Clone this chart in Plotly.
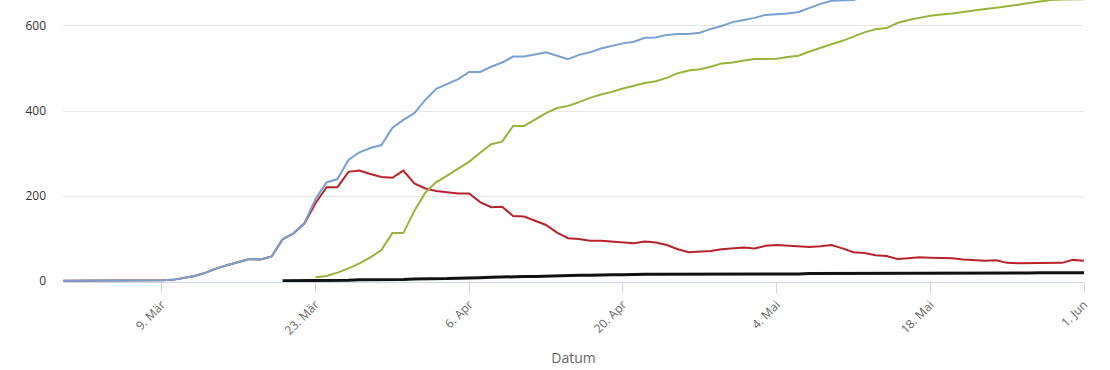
import pandas as pd
import plotly.graph_objects as go

dates = pd.date_range("2020-02-29", "2020-06-01", freq="D")

# Bestätigte Fälle (blau)
faelle = ([1] +
          [1, 1, 1, 2, 2, 2, 2, 2, 2, 3, 8, 12, 20, 30, 38, 45, 52, 51, 58, 99,
           113, 137, 193, 232, 240, 285, 303, 313, 320, 360, 379] +
          [395, 426, 452, 463, 475, 492, 492, 504, 514, 528, 528, 533, 538, 530, 522,
           532, 538, 547, 553, 559, 563, 572, 573, 579, 581, 581, 584, 593, 600, 609] +
          [614, 619, 626, 628, 629, 633, 642, 652, 659, 660, 661, 668, 672, 676, 680,
           684, 687, 690, 693, 696, 699, 702, 705, 707, 709, 711, 713, 716, 719, 722, 726] +
          [729])

# Aktive Fälle (rot)
aktiv = ([1] +
         [1, 1, 1, 2, 2, 2, 2, 2, 2, 3, 8, 12, 20, 30, 38, 45, 52, 51, 58, 98,
          112, 136, 183, 221, 221, 257, 260, 252, 245, 243, 260] +
         [230, 218, 212, 209, 206, 206, 186, 174, 175, 153, 152, 142, 132, 114, 101,
          99, 95, 95, 93, 91, 89, 93, 91, 85, 75, 68, 69, 71, 75, 77] +
         [79, 77, 83, 85, 83, 81, 80, 82, 85, 77, 68, 66, 61, 59, 52,
          54, 56, 55, 54, 54, 51, 49, 48, 49, 43, 42, 42, 42, 42, 43, 50] +
         [48])

# Genesene (grün)
genesen = ([None] * 23 +
           [9, 12, 20, 30, 42, 56, 73, 113, 113] +
           [165, 208, 233, 248, 264, 281, 302, 322, 328, 365, 365, 380, 395, 407, 412,
            421, 431, 439, 445, 453, 459, 466, 470, 478, 489, 495, 498, 504, 512, 514] +
           [519, 522, 522, 523, 527, 530, 540, 549, 557, 565, 575, 585, 592, 595, 607,
            614, 619, 624, 627, 629, 633, 637, 640, 643, 646, 650, 654, 658, 661, 662, 662] +
           [663])

# Verstorbene (schwarz)
tote = ([None] * 20 +
        [1, 1, 1, 2, 2, 2, 2, 3, 3, 3, 4, 4] +
        [5, 5, 6, 6, 7, 7, 8, 9, 10, 10, 11, 11, 12, 12, 13,
         14, 14, 15, 15, 15, 16, 16, 16, 16, 16, 16, 17, 17, 17, 17] +
        [17, 17, 17, 17, 17, 17, 18, 18, 18, 18, 18, 18, 18, 18, 18,
         18, 18, 18, 19, 19, 19, 19, 19, 19, 19, 19, 19, 20, 20, 20, 20] +
        [20])

assert len(faelle) == len(aktiv) == len(genesen) == len(tote) == len(dates)

tick_dates = ["2020-03-09", "2020-03-23", "2020-04-06", "2020-04-20",
              "2020-05-04", "2020-05-18", "2020-06-01"]
tick_labels = ["9. Mär", "23. Mär", "6. Apr", "20. Apr", "4. Mai", "18. Mai", "1. Jun"]
y_ticks = [0, 200, 400, 600]

fig = go.Figure()
fig.add_trace(go.Scatter(x=dates, y=aktiv, mode="lines", name="Aktiv",
                         line=dict(color="#b8232b", width=2)))
fig.add_trace(go.Scatter(x=dates, y=genesen, mode="lines", name="Genesen",
                         line=dict(color="#98b43a", width=2)))
fig.add_trace(go.Scatter(x=dates, y=faelle, mode="lines", name="Fälle",
                         line=dict(color="#77a1cf", width=2)))
fig.add_trace(go.Scatter(x=dates, y=tote, mode="lines", name="Tote",
                         line=dict(color="#111111", width=3)))

fig.update_layout(
    width=1110, height=370,
    margin=dict(l=63, r=26, t=0, b=88),
    paper_bgcolor="white", plot_bgcolor="white",
    showlegend=False,
    font=dict(family="Open Sans, sans-serif", size=12, color="#444"),
)
fig.update_xaxes(
    range=["2020-02-29", "2020-06-01"],
    tickvals=tick_dates, ticktext=tick_labels, tickangle=-45,
    ticks="outside", ticklen=10, tickcolor="#ccd6eb", tickwidth=1,
    tickfont=dict(size=12, color="#666"),
    showgrid=False, showline=True, linecolor="#ccd6eb", linewidth=1,
    title=dict(text="Datum", font=dict(size=14, color="#666"), standoff=15),
    zeroline=False,
)
fig.update_yaxes(
    range=[-2, 661], tickvals=y_ticks,
    showgrid=True, gridcolor="#e6e6e6", gridwidth=1,
    zeroline=False, ticks="", ticklabelstandoff=16,
    tickfont=dict(size=12, color="#333"),
)

fig.write_html("out.html")
